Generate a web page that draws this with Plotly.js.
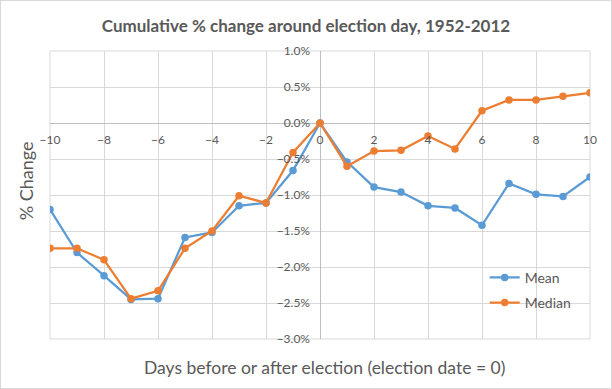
<!DOCTYPE html>
<html>
<head>
<meta charset="utf-8">
<script src="https://cdn.plot.ly/plotly-3.0.1.min.js"></script>
<style>
html,body{margin:0;padding:0;background:#fff;}
#chart{width:610px;height:387px;border:1px solid #d9d9d9;}
</style>
</head>
<body>
<div id="chart"></div>
<script>
const days = [-10,-9,-8,-7,-6,-5,-4,-3,-2,-1,0,1,2,3,4,5,6,7,8,9,10];
const meanPct = [-1.20,-1.80,-2.12,-2.45,-2.44,-1.59,-1.52,-1.15,-1.11,-0.66,0.00,-0.54,-0.89,-0.96,-1.15,-1.18,-1.42,-0.84,-0.99,-1.02,-0.75];
const medianPct = [-1.74,-1.74,-1.90,-2.44,-2.33,-1.74,-1.50,-1.01,-1.11,-0.41,0.00,-0.60,-0.39,-0.38,-0.18,-0.36,0.17,0.32,0.32,0.37,0.42];
const seriesNames = ['Mean','Median'];
const titleText = 'Cumulative % change around election day, 1952-2012';
const xTitle = 'Days before or after election (election date = 0)';
const yTitle = '% Change';

const txt = '#595959';
const font = 'Lato, "Open Sans", sans-serif';
const traces = [
  {x: days, y: meanPct.map(v => v/100), name: seriesNames[0], legendgroup: 'a', mode: 'lines+markers',
   line: {color: '#5b9bd5', width: 2.25}, marker: {color: '#5b9bd5', size: 7.5}},
  {x: days, y: medianPct.map(v => v/100), name: seriesNames[1], legendgroup: 'b', mode: 'lines+markers',
   line: {color: '#ed7d31', width: 2.25}, marker: {color: '#ed7d31', size: 7.5}}
];
const layout = {
  width: 610, height: 387,
  margin: {l: 49, r: 21, t: 50, b: 49},
  paper_bgcolor: '#fff', plot_bgcolor: '#fff',
  font: {family: font, color: txt, size: 12},
  title: {text: '<b>' + titleText + '</b>', font: {size: 17, color: txt, family: font}, x: 0.5, xanchor: 'center', y: 0.935, yanchor: 'middle'},
  xaxis: {range: [-10, 10], dtick: 2, tick0: 0, showgrid: true, gridcolor: '#d9d9d9', gridwidth: 1,
    zeroline: true, zerolinecolor: '#bfbfbf', zerolinewidth: 1, showline: false,
    anchor: 'free', position: 0.75, ticks: '', ticklen: 0, ticklabelstandoff: 8,
    tickfont: {size: 12, color: txt}, fixedrange: true},
  yaxis: {range: [-0.03, 0.01], dtick: 0.005, tickformat: '.1%', showgrid: true, gridcolor: '#d9d9d9', gridwidth: 1,
    zeroline: true, zerolinecolor: '#bfbfbf', zerolinewidth: 1, showline: false,
    anchor: 'free', position: 0.5, ticks: '', ticklen: 0, ticklabelstandoff: 10,
    tickfont: {size: 12, color: txt}, fixedrange: true},
  showlegend: true,
  legend: {x: 0.805, y: 0.268, xanchor: 'left', yanchor: 'top', bgcolor: 'rgba(0,0,0,0)',
    font: {size: 14, color: txt}, itemwidth: 30, traceorder: 'grouped', tracegroupgap: 4},
  shapes: [
    {type: 'rect', xref: 'paper', yref: 'paper', x0: 0, x1: 1, y0: 0, y1: 1,
     line: {color: '#d9d9d9', width: 1}, layer: 'below'}
  ],
  annotations: [
    {text: xTitle, xref: 'paper', yref: 'paper', x: 0.508, y: -0.1, xanchor: 'center', yanchor: 'middle',
     showarrow: false, font: {size: 17.5, color: txt}},
    {text: yTitle, xref: 'paper', yref: 'paper', x: -0.045, y: 0.55, xanchor: 'center', yanchor: 'middle',
     textangle: -90, showarrow: false, font: {size: 18, color: txt}}
  ]
};
Plotly.newPlot('chart', traces, layout, {displayModeBar: false, staticPlot: true});
</script>
</body>
</html>
